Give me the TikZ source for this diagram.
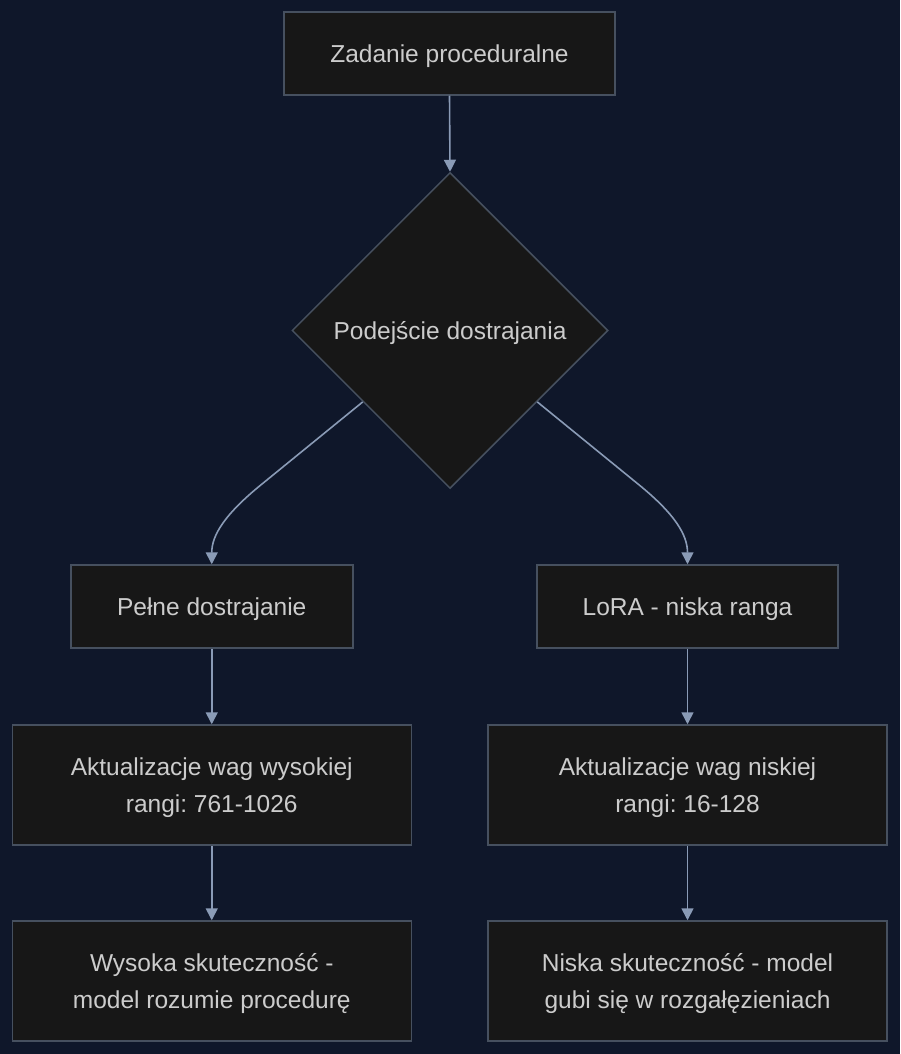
\documentclass[tikz,border=0pt]{standalone}
\usepackage{fontspec}
\setmainfont{Liberation Sans}
\frenchspacing
\usetikzlibrary{shapes.geometric,arrows.meta,calc}
\definecolor{bg}{HTML}{0F172A}
\definecolor{nodefill}{HTML}{171717}
\definecolor{nodeline}{HTML}{46505F}
\definecolor{edgecol}{HTML}{8A9BB6}
\definecolor{txt}{HTML}{CCCCCC}
\tikzset{
  box/.style={draw=nodeline, fill=nodefill, line width=1.5pt, rectangle, inner sep=0pt,
    text=txt, font=\fontsize{24.5}{37}\selectfont, align=center, text depth=0pt},
  dia/.style={draw=nodeline, fill=nodefill, line width=1.5pt, diamond, inner sep=0pt,
    minimum width=316pt, minimum height=316pt, text=txt, font=\fontsize{24.5}{37}\selectfont, text depth=0pt},
  edge/.style={draw=edgecol, line width=1.6pt, -{Triangle[length=12pt,width=12pt]}}
}
\begin{document}
\begin{tikzpicture}[x=1pt,y=-1pt]
\fill[bg] (0,0) rectangle (900,1054);
\useasboundingbox (0,0) rectangle (900,1054);
\node[box, minimum width=331pt, minimum height=83pt] (a) at (449.5,53.5) {Zadanie proceduralne};
\node[dia] (d) at (450,330.5) {Podejście dostrajania};
\node[box, minimum width=282pt, minimum height=83pt] (p) at (211.75,606.5) {Pełne dostrajanie};
\node[box, minimum width=301pt, minimum height=83pt] (l) at (687.5,606.5) {LoRA - niska ranga};
\node[box, minimum width=399pt, minimum height=120pt] (h) at (211.75,785) {Aktualizacje wag wysokiej\\rangi: 761-1026};
\node[box, minimum width=399pt, minimum height=120pt] (n) at (687.5,785) {Aktualizacje wag niskiej\\rangi: 16-128};
\node[box, minimum width=399pt, minimum height=120pt] (hs) at (211.75,981) {Wysoka skuteczność -\\model rozumie procedurę};
\node[box, minimum width=399pt, minimum height=120pt] (ns) at (687.5,981) {Niska skuteczność - model\\gubi się w rozgałęzieniach};
\coordinate (dl) at ($(d.west)!0.45!(d.south)$);
\coordinate (dr) at ($(d.east)!0.45!(d.south)$);
\draw[edge] (a.south) -- (d.north);
\draw[edge] (dl) -- (262,484) .. controls (225,514) and (211.75,535) .. (p.north);
\draw[edge] (dr) -- (638,484) .. controls (675,514) and (687.5,535) .. (l.north);
\draw[edge] (p.south) -- (h.north);
\draw[edge] (l.south) -- (n.north);
\draw[edge] (h.south) -- (hs.north);
\draw[edge] (n.south) -- (ns.north);
\end{tikzpicture}
\end{document}
